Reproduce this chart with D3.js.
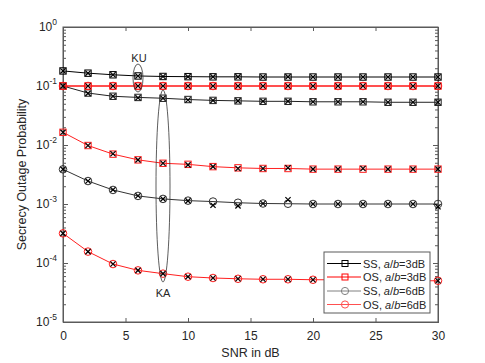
<!DOCTYPE html>
<html><head><meta charset="utf-8">
<script src="https://cdn.jsdelivr.net/npm/d3@7"></script>
<style>body{margin:0;background:#fff}svg{display:block}text{font-family:"Liberation Sans",Arial,sans-serif}</style>
</head><body><svg id="c" width="485" height="363"></svg>
<script>
const snr = [0,2,4,6,8,10,12,14,16,18,20,22,24,26,28,30];
const xTicks = [0,5,10,15,20,25,30];
const yDecades = [-5,-4,-3,-2,-1,0];
// KU (key unaware) group
const kuSS3 = [0.18,0.165,0.155,0.148,0.145,0.144,0.143,0.143,0.142,0.142,0.142,0.142,0.142,0.142,0.142,0.142];
const kuOS3 = [0.1,0.1,0.1,0.1,0.1,0.1,0.1,0.1,0.1,0.1,0.1,0.1,0.1,0.1,0.1,0.1];
const kuSS6 = [0.1,0.076,0.067,0.064,0.062,0.059,0.057,0.056,0.055,0.055,0.054,0.054,0.054,0.053,0.053,0.053];
const kuOS6 = [0.1,0.1,0.1,0.1,0.1,0.1,0.1,0.1,0.1,0.1,0.1,0.1,0.1,0.1,0.1,0.1];
// KA (key aware) group
const kaOS3 = [0.0164,0.0098,0.0070,0.0056,0.0049,0.0047,0.0043,0.0041,0.0040,0.0040,0.0039,0.0039,0.0039,0.0039,0.0039,0.0039];
const kaSS6 = [0.00387,0.00245,0.00173,0.00137,0.00122,0.00114,0.00110,0.00105,0.00102,0.00101,0.00100,0.00100,0.00100,0.00100,0.00100,0.00100];
const kaOS6 = [0.000318,0.000156,0.000096,0.000075,0.000066,0.0000586,0.0000557,0.000054,0.000053,0.000053,0.000052,0.000052,0.000051,0.000051,0.000050,0.000050];
// simulation points (x markers)
const simKuSS3 = [0.18,0.165,0.155,0.148,0.145,0.144,0.143,0.143,0.142,0.143,0.142,0.142,0.142,0.142,0.142,0.142];
const simKuOS = [0.1,0.1,0.1,0.1,0.1,0.1,0.1,0.1,0.1,0.1,0.1,0.1,0.1,0.1,0.1,0.1];
const simKuSS6 = [0.1,0.075,0.067,0.063,0.062,0.058,0.057,0.056,0.055,0.055,0.054,0.054,0.054,0.053,0.053,0.053];
const simKaOS3 = [0.0164,0.0098,0.0071,0.0056,0.0049,0.0046,0.0043,0.0040,0.0040,0.0041,0.0039,0.0039,0.0040,0.0039,0.0039,0.0039];
const simKaSS6 = [0.00387,0.00245,0.00175,0.00138,0.00122,0.00113,0.00095,0.00093,0.00102,0.00118,0.00100,0.00100,0.00100,0.00100,0.00100,0.00090];
const simKaOS6 = [0.000318,0.000156,0.000096,0.000075,0.000066,0.0000586,0.0000557,0.000054,0.000053,0.000053,0.000052,0.000052,0.000051,0.000051,0.000050,0.000050];
const legendLabels = ["SS, ", "OS, ", "SS, ", "OS, "];
const legendDb = ["=3dB","=3dB","=6dB","=6dB"];

const svg = d3.select("#c");
const L=63,R=438,T=27,B=322;
const x = d3.scaleLinear().domain([0,30]).range([L,R]);
const y = d3.scaleLog().domain([1e-5,1]).range([B,T]);
const axisCol="#5a5a5a", txtCol="#262626";

// box
svg.append("rect").attr("x",L).attr("y",T).attr("width",R-L).attr("height",B-T)
  .attr("fill","none").attr("stroke",axisCol).attr("stroke-width",1);

// x axes
const gxb = svg.append("g").attr("transform",`translate(0,${B})`)
  .call(d3.axisBottom(x).tickValues(xTicks).tickSize(-4).tickPadding(9).tickFormat(d3.format("d")));
const gxt = svg.append("g").attr("transform",`translate(0,${T})`)
  .call(d3.axisTop(x).tickValues(xTicks).tickSize(-4).tickFormat(""));
// y axes
const majors = yDecades.map(e=>Math.pow(10,e));
const minors = [];
yDecades.slice(0,-1).forEach(e=>{for(let k=2;k<=9;k++) minors.push(k*Math.pow(10,e));});
const gyl = svg.append("g").attr("transform",`translate(${L},0)`)
  .call(d3.axisLeft(y).tickValues(majors).tickSize(-5).tickPadding(8).tickFormat(""));
const gylm = svg.append("g").attr("transform",`translate(${L},0)`)
  .call(d3.axisLeft(y).tickValues(minors).tickSize(-3).tickFormat(""));
const gyr = svg.append("g").attr("transform",`translate(${R},0)`)
  .call(d3.axisRight(y).tickValues(majors).tickSize(-5).tickFormat(""));
const gyrm = svg.append("g").attr("transform",`translate(${R},0)`)
  .call(d3.axisRight(y).tickValues(minors).tickSize(-3).tickFormat(""));
[gxb,gxt,gyl,gylm,gyr,gyrm].forEach(g=>{
  g.select(".domain").attr("stroke",axisCol);
  g.selectAll(".tick line").attr("stroke",axisCol);
});
gxb.selectAll(".tick text").attr("font-size",12).attr("fill",txtCol).attr("font-family","Liberation Sans, Arial, sans-serif");
// y labels with superscript
yDecades.forEach(e=>{
  const t = svg.append("text").attr("x",57).attr("y",y(Math.pow(10,e))+4)
    .attr("text-anchor","end").attr("fill",txtCol).attr("font-size",12);
  t.append("tspan").text("10");
  t.append("tspan").attr("dy",-6).attr("font-size",8.5).text(String(e));
});

// axis titles
svg.append("text").attr("x",(L+R)/2).attr("y",357).attr("text-anchor","middle")
  .attr("font-size",12.5).attr("fill",txtCol).text("SNR in dB");
svg.append("text").attr("transform",`translate(26,${(T+B)/2}) rotate(-90)`).attr("text-anchor","middle")
  .attr("font-size",12.5).attr("fill",txtCol).text("Secrecy Outage Probability");

const line = d3.line().x((d,i)=>x(snr[i])).y(d=>y(d));
function series(vals, col, marker, sim){
  svg.append("path").datum(vals).attr("d",line).attr("fill","none").attr("stroke",col).attr("stroke-width",1);
  const g = svg.append("g");
  vals.forEach((v,i)=>{
    if(marker==="s") g.append("rect").attr("x",x(snr[i])-3.2).attr("y",y(v)-3.2).attr("width",6.4).attr("height",6.4)
      .attr("fill","none").attr("stroke",col).attr("stroke-width",1);
    else g.append("circle").attr("cx",x(snr[i])).attr("cy",y(v)).attr("r",3.8)
      .attr("fill","none").attr("stroke",col).attr("stroke-width",1);
  });
  if(sim){
    sim.forEach((v,i)=>{
      const cx=x(snr[i]), cy=y(v), h=2.6;
      g.append("path").attr("d",`M${cx-h},${cy-h}L${cx+h},${cy+h}M${cx-h},${cy+h}L${cx+h},${cy-h}`)
        .attr("stroke","#000").attr("stroke-width",1.2);
    });
  }
}
series(kuSS3,"#000","s",simKuSS3);
series(kuSS6,"#222","s",simKuSS6);
series(kuOS3,"#ff0000","s",null);
series(kuOS6,"#ff2020","o",simKuOS);
series(kaOS3,"#ff2020","s",simKaOS3);
series(kaSS6,"#333","o",simKaSS6);
series(kaOS6,"#ff2020","o",simKaOS6);

// ellipses and labels
svg.append("ellipse").attr("cx",x(6)).attr("cy",(64+92)/2).attr("rx",5).attr("ry",14)
  .attr("fill","none").attr("stroke","#333").attr("stroke-width",0.8);
svg.append("text").attr("x",x(6)+1).attr("y",62).attr("text-anchor","middle").attr("font-size",11).attr("fill",txtCol).text("KU");
svg.append("ellipse").attr("cx",x(8)).attr("cy",(90+282)/2).attr("rx",7).attr("ry",96)
  .attr("fill","none").attr("stroke","#333").attr("stroke-width",0.8);
svg.append("text").attr("x",x(8)).attr("y",297).attr("text-anchor","middle").attr("font-size",11).attr("fill",txtCol).text("KA");

// legend
const lg = svg.append("g");
lg.append("rect").attr("x",324).attr("y",252).attr("width",106).attr("height",61)
  .attr("fill","#fff").attr("stroke",axisCol).attr("stroke-width",1);
const legCols = ["#000","#ff0000","#808080","#ff5050"];
const legMk = ["s","s","o","o"];
const legY = [263.5,277,291,304.5];
legendLabels.forEach((lab,i)=>{
  const yy=legY[i];
  lg.append("line").attr("x1",327).attr("x2",361).attr("y1",yy).attr("y2",yy).attr("stroke",legCols[i]).attr("stroke-width",1);
  if(legMk[i]==="s") lg.append("rect").attr("x",342).attr("y",yy-3).attr("width",6).attr("height",6).attr("fill","none").attr("stroke",legCols[i]);
  else lg.append("circle").attr("cx",345).attr("cy",yy).attr("r",3.6).attr("fill","none").attr("stroke",legCols[i]);
  const t = lg.append("text").attr("x",363).attr("y",yy+4).attr("font-size",11).attr("fill",txtCol);
  t.append("tspan").text(lab);
  t.append("tspan").attr("font-style","italic").text("a");
  t.append("tspan").text("/");
  t.append("tspan").attr("font-style","italic").text("b");
  t.append("tspan").text(legendDb[i]);
});
</script></body></html>
